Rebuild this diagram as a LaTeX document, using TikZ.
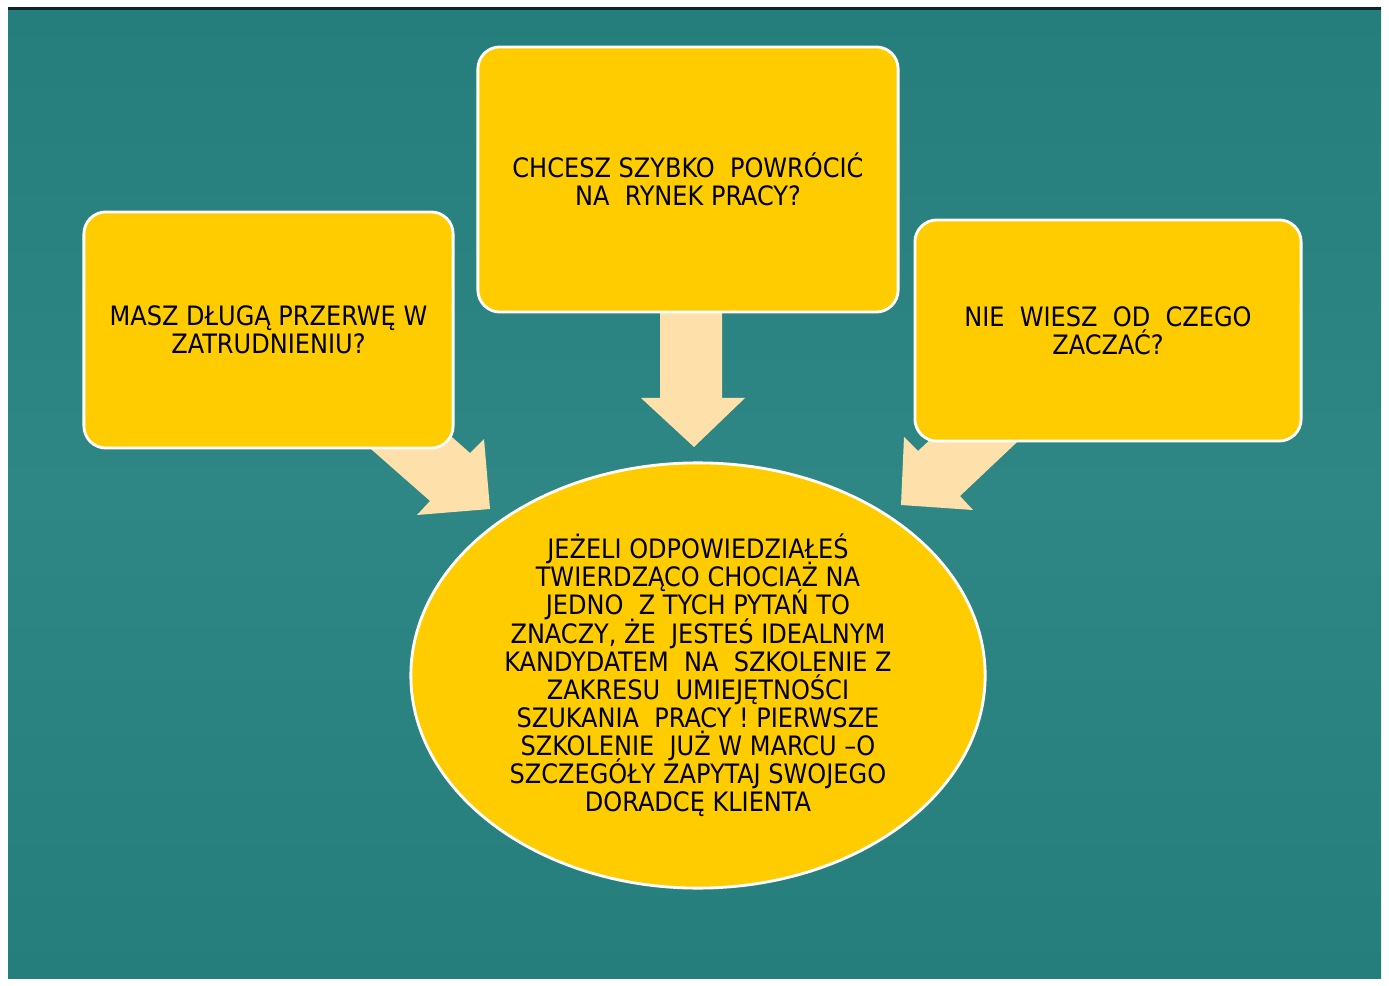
\documentclass[tikz,border=0pt]{standalone}
\usepackage{fontspec}
\setmainfont{DejaVu Sans Condensed}
\usetikzlibrary{shapes.geometric}
\definecolor{meer}{HTML}{267E7C}
\definecolor{meerhell}{HTML}{2E8785}
\definecolor{gelb}{HTML}{FFCC00}
\definecolor{pfirsich}{HTML}{FDE0AA}
\newcommand{\fragefont}{\fontsize{7.6}{8.0}\selectfont\lineskiplimit=-10pt\relax}
\tikzset{
	frage/.style={rectangle,rounded corners=0.22cm,draw=white,line width=0.8pt,fill=gelb,
		align=center,font=\fragefont},
	antwort/.style={ellipse,draw=white,line width=0.8pt,fill=gelb,inner sep=0pt,
		align=center,font=\fragefont}
}
\begin{document}
\begin{tikzpicture}[x=0.01cm,y=-0.01cm]
	% Hintergrund
	\fill[white] (0,0) rectangle (1389,986);
	\useasboundingbox (0,0) rectangle (1389,986);
	\shade[top color=meer,bottom color=meer,middle color=meerhell] (8,8) rectangle (1381,978);
	\draw[black!70!meer,line width=0.6pt] (8,8.5) -- (1381,8.5);

	% Pfeile
	\fill[pfirsich] (355,435) -- (430,501) -- (417,515) -- (490,509) -- (484,439) -- (470,453) -- (410,400) -- cycle;
	\fill[pfirsich] (660,290) -- (660,398) -- (641,398) -- (694,447) -- (745,398) -- (722,398) -- (722,290) -- cycle;
	\fill[pfirsich] (1033,427) -- (960,496) -- (973,510) -- (901,505) -- (904,437) -- (918,451) -- (970,402) -- cycle;

	% Knoten
	\node (Pause) at (268.5,330) [frage,minimum width=3.69cm,minimum height=2.36cm]
		{MASZ DŁUGĄ PRZERWĘ W\\ZATRUDNIENIU?};
	\node (Rueckkehr) at (688,179.5) [frage,minimum width=4.20cm,minimum height=2.65cm]
		{CHCESZ SZYBKO\ \ POWRÓCIĆ\\NA\ \ RYNEK PRACY?};
	\node (Anfang) at (1108,330.5) [frage,minimum width=3.86cm,minimum height=2.21cm]
		{NIE\ \ WIESZ\ \ OD\ \ CZEGO\\ZACZAĆ?};
	\node (Schulung) at (698,675.5) [antwort,minimum width=5.74cm,minimum height=4.25cm]
		{JEŻELI ODPOWIEDZIAŁEŚ\\TWIERDZĄCO CHOCIAŻ NA\\JEDNO\ \ Z TYCH PYTAŃ TO\\
		ZNACZY, ŻE\ \ JESTEŚ IDEALNYM\\KANDYDATEM\ \ NA\ \ SZKOLENIE Z\\ZAKRESU\ \ UMIEJĘTNOŚCI\\
		SZUKANIA\ \ PRACY ! PIERWSZE\\SZKOLENIE\ \ JUŻ W MARCU –O\\SZCZEGÓŁY ZAPYTAJ SWOJEGO\\DORADCĘ KLIENTA};
\end{tikzpicture}
\end{document}
